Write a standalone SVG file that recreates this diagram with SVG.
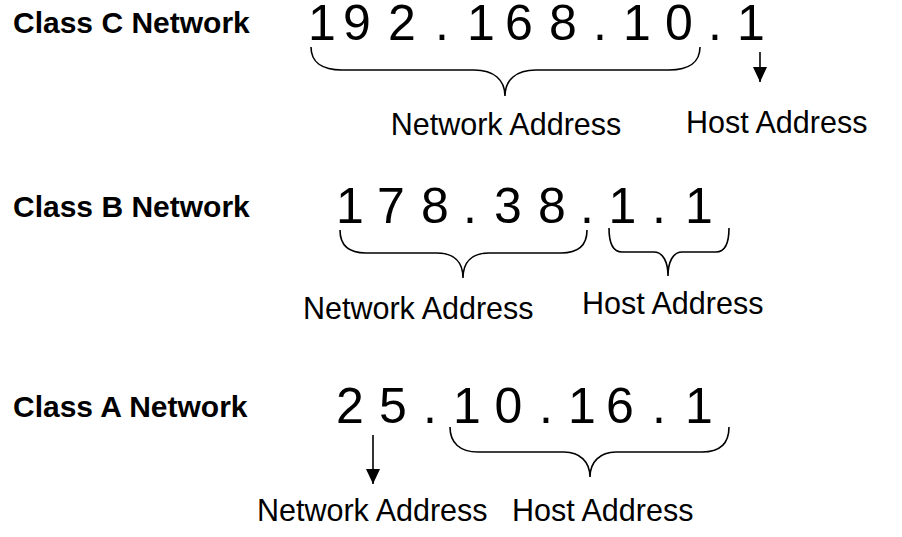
<svg xmlns="http://www.w3.org/2000/svg" width="902" height="537" viewBox="0 0 902 537">
<style>
.cls{font-family:"Liberation Sans",Arial,sans-serif;font-weight:bold;font-size:30px;fill:#000}
.ip{font-family:"Liberation Sans",Arial,sans-serif;font-size:50px;fill:#000}
.lbl{font-family:"Liberation Sans",Arial,sans-serif;font-size:30.5px;fill:#000}
.brace{fill:none;stroke:#000;stroke-width:1.6}
.arr{fill:none;stroke:#000;stroke-width:1.6}
</style>
<defs>
<marker id="head" markerUnits="userSpaceOnUse" markerWidth="15" markerHeight="14" viewBox="0 0 15 14" refX="15" refY="7" orient="auto">
<path d="M0,0 L15,7 L0,14 z" fill="#000"/>
</marker>
</defs>
<rect width="902" height="537" fill="#fff"/>
<g id="classC">
<text class="cls" x="13" y="33">Class C Network</text>
<text class="ip" y="40"><tspan x="308">1</tspan><tspan x="343">9</tspan><tspan x="388">2</tspan><tspan x="435">.</tspan><tspan x="467">1</tspan><tspan x="505">6</tspan><tspan x="549">8</tspan><tspan x="593">.</tspan><tspan x="623">1</tspan><tspan x="665">0</tspan><tspan x="708">.</tspan><tspan x="737">1</tspan></text>
<text class="lbl" x="506" y="135" text-anchor="middle">Network Address</text>
<text class="lbl" x="686" y="133">Host Address</text>
</g>
<g id="classB">
<text class="cls" x="13" y="217">Class B Network</text>
<text class="ip" y="223"><tspan x="336">1</tspan><tspan x="377">7</tspan><tspan x="421">8</tspan><tspan x="463">.</tspan><tspan x="494">3</tspan><tspan x="538">8</tspan><tspan x="580">.</tspan><tspan x="608.5">1</tspan><tspan x="652">.</tspan><tspan x="685">1</tspan></text>
<text class="lbl" x="303" y="319">Network Address</text>
<text class="lbl" x="582" y="314">Host Address</text>
</g>
<g id="classA">
<text class="cls" x="13" y="417">Class A Network</text>
<text class="ip" y="423"><tspan x="336">2</tspan><tspan x="379">5</tspan><tspan x="423">.</tspan><tspan x="453">1</tspan><tspan x="494.5">0</tspan><tspan x="539">.</tspan><tspan x="568">1</tspan><tspan x="606">6</tspan><tspan x="652">.</tspan><tspan x="685">1</tspan></text>
<text class="lbl" x="257" y="521">Network Address</text>
<text class="lbl" x="512" y="521">Host Address</text>
</g>
<g id="connectors">
<path class="brace" d="M311,47 C311,62 322,70 342,70 L474,70 C494,70 505,80 505,96 C505,80 516,70 536,70 L669,70 C689,70 700,62 700,47"/>
<line class="arr" x1="760" y1="52" x2="760" y2="82" marker-end="url(#head)"/>
<path class="brace" d="M340,230 C340,245 349,253 366,253 L437,253 C454,253 463,262 463,278 C463,262 472,253 489,253 L561,253 C578,253 587,245 587,230"/>
<path class="brace" d="M609,228 C609,244 613,252 622,252 L654,252 C663,252 668,262 668,276 C668,262 673,252 682,252 L716,252 C725,252 729,244 729,228"/>
<line class="arr" x1="373" y1="435" x2="373" y2="484" marker-end="url(#head)"/>
<path class="brace" d="M450,427 C450,443 460,452 478,452 L564,452 C580,452 590,462 590,477 C590,462 600,452 616,452 L702,452 C720,452 729,443 729,427"/>
</g>
</svg>
